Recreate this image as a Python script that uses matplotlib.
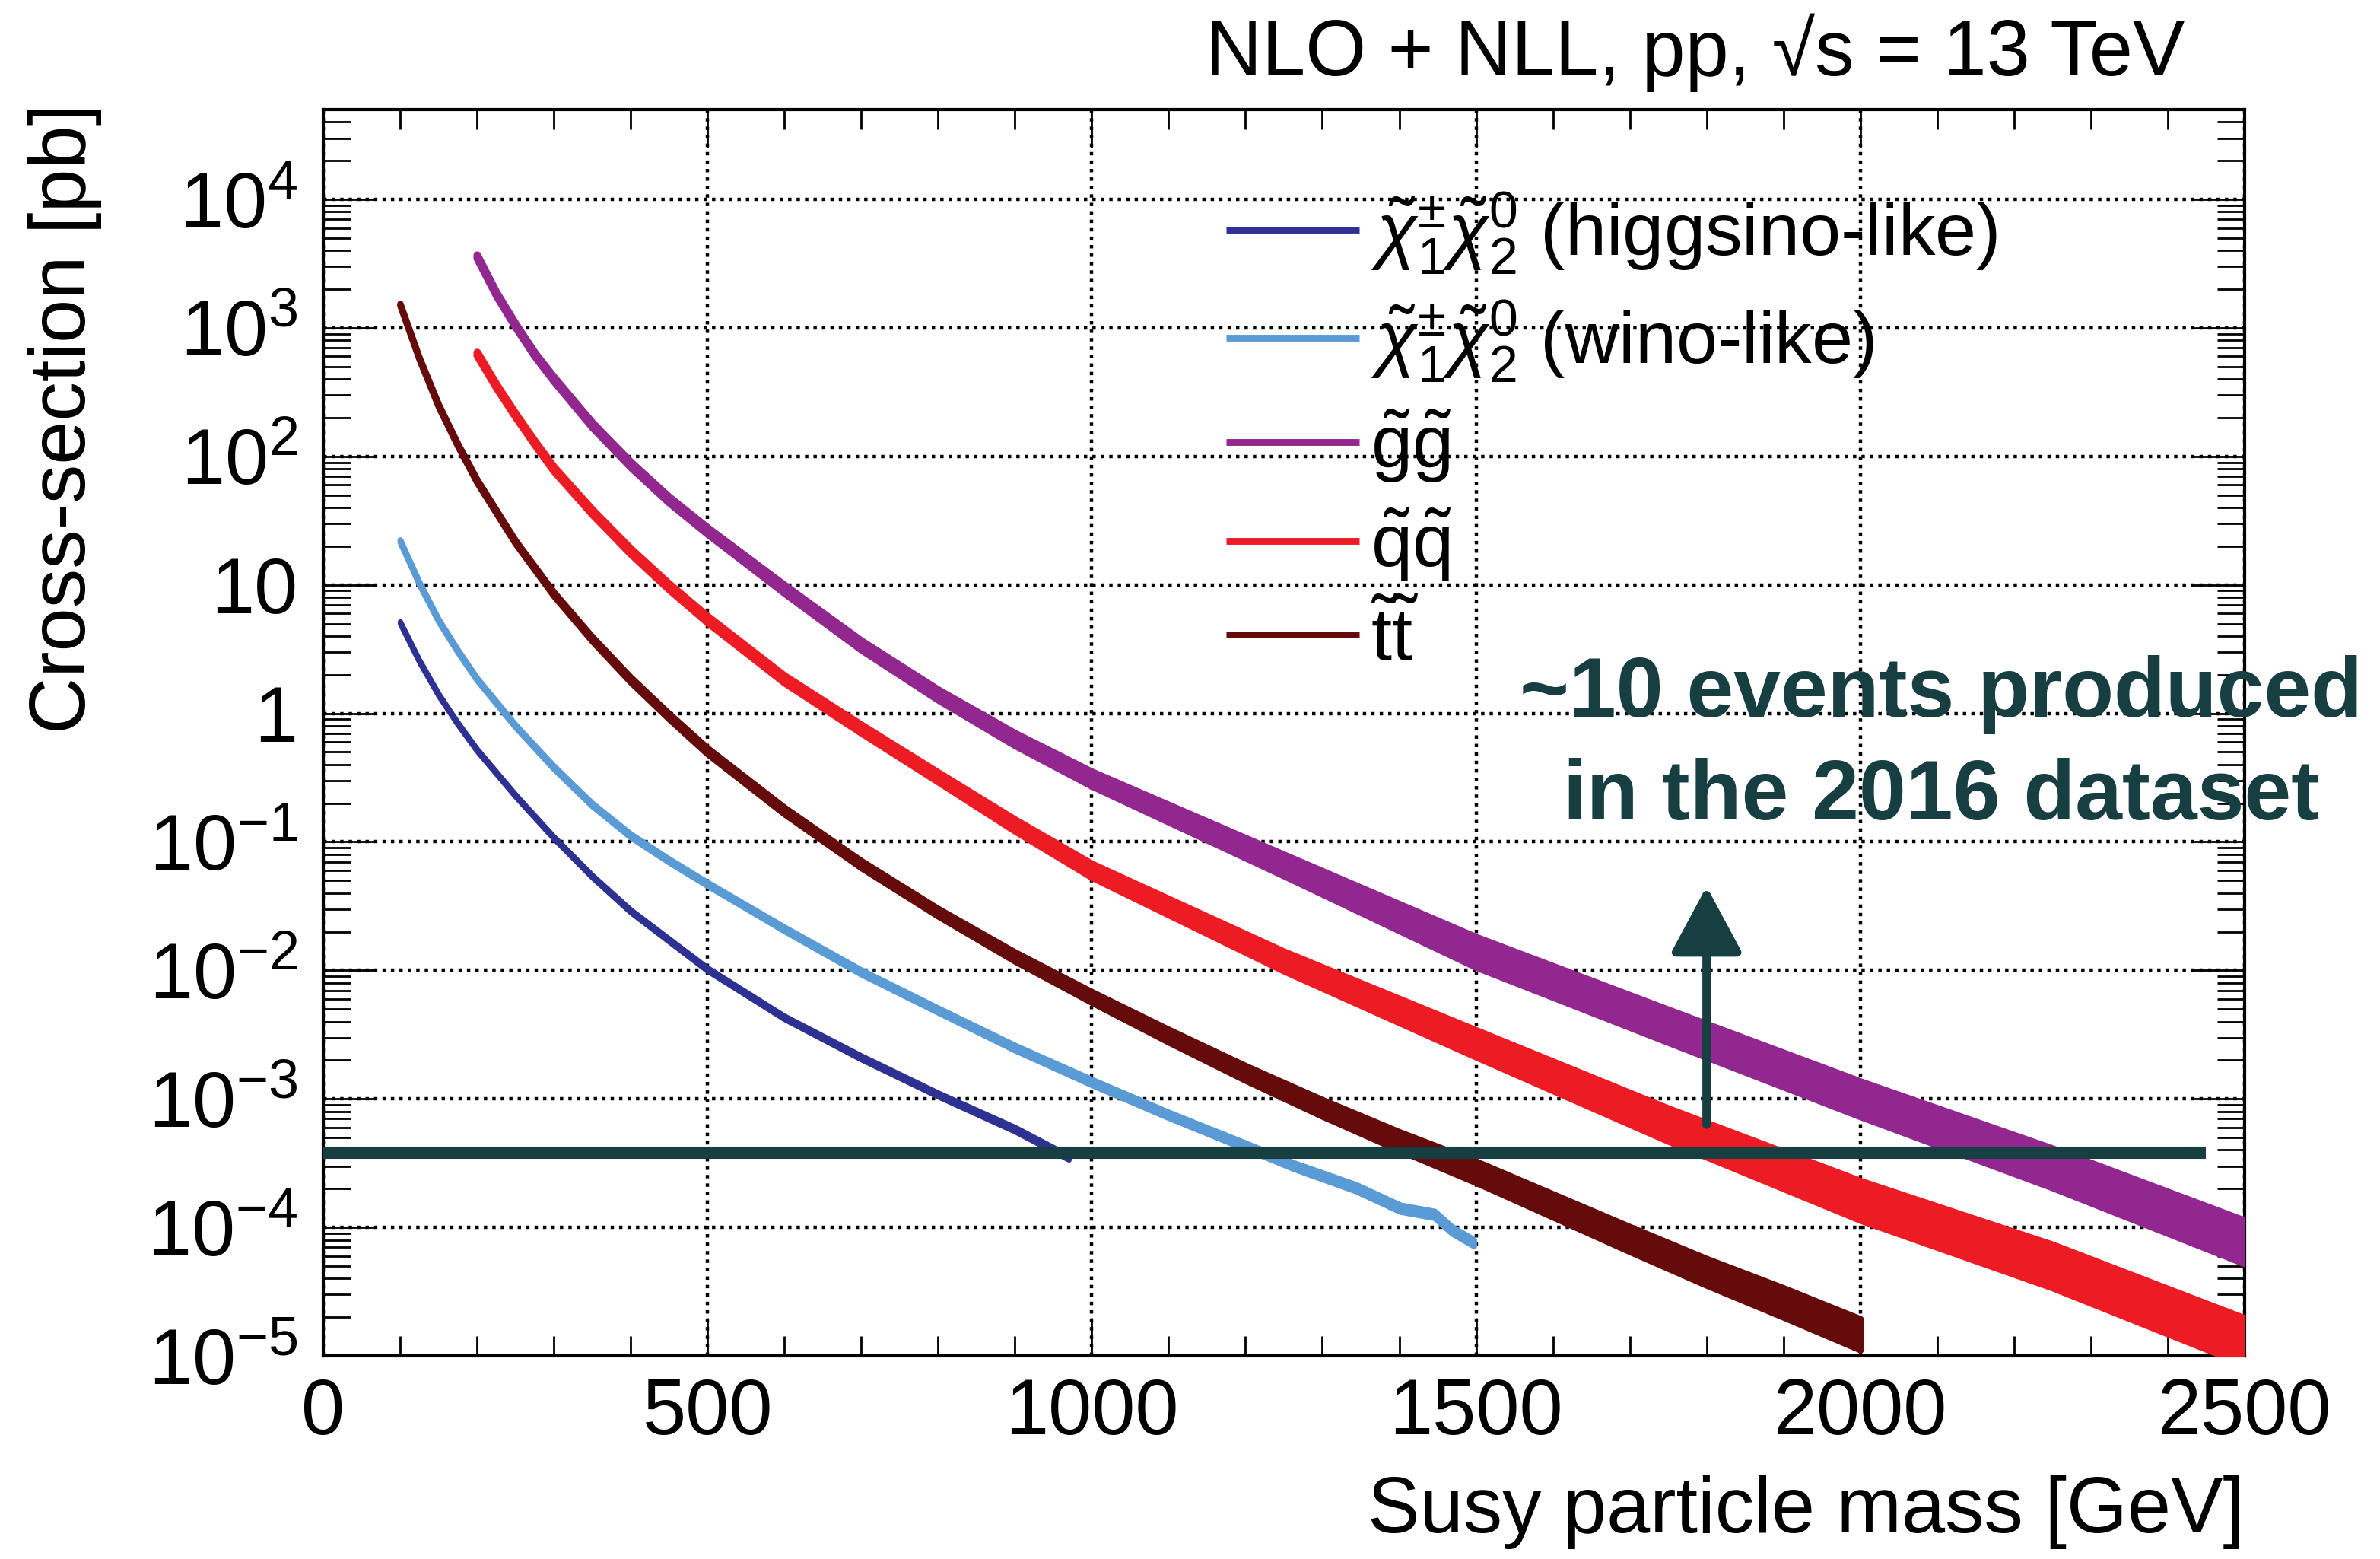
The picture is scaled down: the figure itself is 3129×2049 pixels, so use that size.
import numpy as np
import matplotlib
matplotlib.use("Agg")
import matplotlib.pyplot as plt
from matplotlib.lines import Line2D
from matplotlib.ticker import LogLocator, FuncFormatter, MultipleLocator, NullFormatter

plt.rcParams['font.family'] = ['Liberation Sans', 'DejaVu Sans']
plt.rcParams['mathtext.fontset'] = 'custom'
plt.rcParams['mathtext.rm'] = 'Liberation Sans'
plt.rcParams['mathtext.it'] = 'Liberation Sans:italic'
plt.rcParams['mathtext.bf'] = 'Liberation Sans:bold'

# NLO+NLL cross-sections at 13 TeV [pb], with relative scale/PDF uncertainty
higgsino_mass = [100, 125, 150, 175, 200, 250, 300, 350, 400, 500, 600, 700, 800, 900, 970]
higgsino_xs = [5.1, 2.56, 1.4, 0.834, 0.52, 0.23, 0.108, 0.054, 0.029, 0.0102, 0.0043, 0.0021,
               0.00108, 0.00058, 0.00035]
higgsino_unc = [0.02, 0.02, 0.02, 0.02, 0.02, 0.02, 0.02, 0.022, 0.025, 0.03, 0.03, 0.035,
                0.035, 0.04, 0.04]

wino_mass = [100, 125, 150, 175, 200, 250, 300, 350, 400, 450, 500, 600, 700, 800, 900, 1000,
             1100, 1200, 1264, 1344, 1401, 1446, 1469, 1497]
wino_xs = [22, 10.3, 5.3, 3.06, 1.85, 0.80, 0.38, 0.195, 0.112, 0.0715, 0.047, 0.021, 0.0097,
           0.0049, 0.0025, 0.00135, 0.00075, 0.00043, 0.00030, 0.000203, 0.000141, 0.000126,
           0.000095, 0.000076]
wino_unc = [0.02, 0.02, 0.02, 0.02, 0.02, 0.02, 0.025, 0.025, 0.03, 0.03, 0.03, 0.035, 0.04,
            0.04, 0.045, 0.05, 0.05, 0.055, 0.055, 0.06, 0.06, 0.06, 0.06, 0.06]

gluino_mass = [200, 225, 250, 275, 300, 350, 400, 450, 500, 600, 700, 800, 900, 1000, 1250,
               1500, 1750, 2000, 2250, 2500]
gluino_xs = [3600, 1845, 1050, 624, 400, 176, 86.5, 46, 26.4, 9.3, 3.4, 1.4, 0.63, 0.31, 0.066,
             0.0139, 0.0037, 0.00100, 0.00029, 0.000077]
gluino_unc = [0.03, 0.03, 0.03, 0.03, 0.035, 0.04, 0.045, 0.05, 0.055, 0.07, 0.08, 0.09, 0.11,
              0.13, 0.2, 0.3, 0.33, 0.36, 0.41, 0.46]

squark_mass = [200, 225, 250, 275, 300, 350, 400, 450, 500, 600, 700, 800, 900, 1000, 1250,
               1500, 1750, 2000, 2250, 2500]
squark_xs = [630, 355, 210, 128, 80, 37, 18.3, 9.7, 5.4, 1.85, 0.76, 0.32, 0.135, 0.060, 0.0118,
             0.0027, 0.00063, 0.000162, 0.000050, 0.0000130]
squark_unc = [0.03, 0.03, 0.03, 0.03, 0.035, 0.04, 0.045, 0.05, 0.055, 0.06, 0.07, 0.08, 0.1,
              0.12, 0.18, 0.26, 0.33, 0.41, 0.46, 0.5]

stop_mass = [100, 125, 150, 175, 200, 250, 300, 350, 400, 450, 500, 600, 700, 800, 900, 1000,
             1100, 1200, 1300, 1400, 1500, 1600, 1700, 1800, 1900, 2000]
stop_xs = [1520, 578, 249, 123, 64.5, 21.6, 8.5, 3.8, 1.83, 0.95, 0.51, 0.175, 0.067, 0.0283,
           0.0128, 0.0062, 0.0031, 0.00159, 0.00085, 0.00047, 0.00027, 0.000148, 0.000081,
           0.000045, 0.000026, 0.0000147]
stop_unc = [0.02, 0.02, 0.025, 0.025, 0.03, 0.03, 0.035, 0.04, 0.045, 0.05, 0.055, 0.06, 0.065,
            0.07, 0.085, 0.1, 0.12, 0.14, 0.16, 0.18, 0.21, 0.23, 0.25, 0.27, 0.3, 0.32]

# ~10 events in the 2016 dataset
limit_xs = 3.8e-4
limit_mass_max = 2450
arrow_mass = 1800

teal = '#173e40'

chi_pair = r'$\tilde{\chi}_1^{\pm}\tilde{\chi}_2^{0}$'
processes = [
    (higgsino_mass, higgsino_xs, higgsino_unc, '#2e3192', 2.5, chi_pair + ' (higgsino-like)'),
    (wino_mass, wino_xs, wino_unc, '#5b9bd5', 2.8, chi_pair + ' (wino-like)'),
    (gluino_mass, gluino_xs, gluino_unc, '#92278f', 3.6, r'$\tilde{\mathrm{g}}\tilde{\mathrm{g}}$'),
    (squark_mass, squark_xs, squark_unc, '#ed1c24', 3.6, r'$\tilde{\mathrm{q}}\tilde{\mathrm{q}}$'),
    (stop_mass, stop_xs, stop_unc, '#650b0b', 3.0, r'$\tilde{\mathrm{t}}\tilde{\mathrm{t}}$'),
]

fig = plt.figure(figsize=(15.645, 10.245), dpi=200)
ax = fig.add_axes([0.1358, 0.1303, 0.8073, 0.7994])
ax.set_yscale('log')
ax.set_xlim(0, 2500)
ax.set_ylim(1e-5, 5e4)

handles = []
for mass, xs, unc, color, lw, label in processes:
    mass = np.array(mass, dtype=float)
    xs = np.array(xs)
    unc = np.array(unc)
    ax.fill_between(mass, xs / (1 + unc), xs * (1 + unc), facecolor=color,
                    edgecolor=color, linewidth=lw, joinstyle='round', zorder=3)
    handles.append(Line2D([], [], color=color, lw=3.2, solid_capstyle='butt'))

# event threshold and arrow
ax.hlines(limit_xs, 0, limit_mass_max, color=teal, lw=5.8, zorder=4, clip_on=False)
ax.annotate('', xy=(arrow_mass, 0.045), xytext=(arrow_mass, 6.3e-4),
            arrowprops=dict(arrowstyle='-|>,head_length=27,head_width=14.5',
                            mutation_scale=1, color=teal, lw=4,
                            shrinkA=0, shrinkB=0),
            zorder=4)
ax.text(2105, 0.56, '~10 events produced\nin the 2016 dataset', color=teal,
        fontsize=40, fontweight='bold', ha='center', va='center',
        linespacing=1.38, clip_on=False, zorder=5)

# axes styling
ax.xaxis.set_major_locator(MultipleLocator(500))
ax.xaxis.set_minor_locator(MultipleLocator(100))
ax.yaxis.set_major_locator(LogLocator(base=10, numticks=20))
ax.yaxis.set_minor_locator(LogLocator(base=10, subs=np.arange(2, 10), numticks=20))
ax.yaxis.set_minor_formatter(NullFormatter())


def decade_label(v, pos):
    n = int(round(np.log10(v)))
    if n == 0:
        return '1'
    if n == 1:
        return '10'
    return r'$10^{%d}$' % n


ax.yaxis.set_major_formatter(FuncFormatter(decade_label))
ax.tick_params(axis='both', which='both', direction='in', top=True, right=True,
               labelsize=37, width=1.0)
ax.tick_params(axis='y', which='major', length=25, pad=12)
ax.tick_params(axis='y', which='minor', length=13)
ax.tick_params(axis='x', which='major', length=18, pad=10)
ax.tick_params(axis='x', which='minor', length=9.4)
for sp in ax.spines.values():
    sp.set_linewidth(1.5)

ax.set_axisbelow(True)
ax.grid(True, which='major', color='black', linestyle=(0, (1, 1.5)), linewidth=1.6)

ax.set_xlabel('Susy particle mass [GeV]', fontsize=37, loc='right')
ax.set_ylabel('Cross-section [pb]', fontsize=37, loc='top')
ax.xaxis.set_label_coords(1.0, -0.096)
ax.yaxis.set_label_coords(-0.115, 1.005)

ax.legend(handles, [p[5] for p in processes], loc='upper left',
          bbox_to_anchor=(0.47, 0.935), frameon=False, fontsize=35,
          borderpad=0, borderaxespad=0, handlelength=1.8, handletextpad=0.15,
          labelspacing=0.3)

fig.text(0.918, 0.966, 'NLO + NLL, pp, \u221as = 13 TeV', fontsize=37,
         ha='right', va='center')

fig.savefig('out.png', dpi=200)
